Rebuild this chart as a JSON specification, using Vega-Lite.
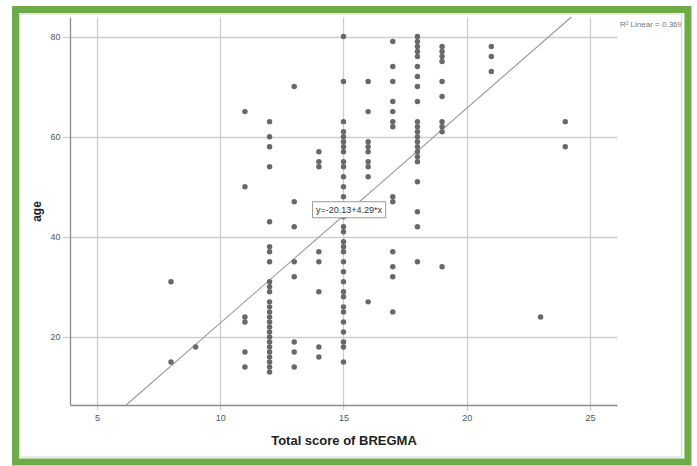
{
  "$schema": "https://vega.github.io/schema/vega-lite/v6.json",
  "width": 547,
  "height": 388,
  "autosize": {"type": "none"},
  "padding": {"left": 70, "top": 17, "right": 80, "bottom": 61},
  "background": "white",
  "config": {
    "font": "Liberation Sans",
    "view": {"stroke": null},
    "axis": {
      "gridColor": "#cdcdcd",
      "gridWidth": 1.3,
      "domainColor": "#8c8c8c",
      "domainWidth": 1.3,
      "tickColor": "#cdcdcd",
      "tickWidth": 1.3,
      "labelColor": "#555555",
      "labelFontSize": 9,
      "labelFont": "Liberation Sans",
      "titleFont": "Liberation Sans",
      "titleFontWeight": "bold",
      "titleColor": "#222222"
    }
  },
  "datasets": {
    "pts": [
      {"score": 8, "age": 31}, {"score": 8, "age": 15},
      {"score": 9, "age": 18},
      {"score": 11, "age": 65}, {"score": 11, "age": 50}, {"score": 11, "age": 24}, {"score": 11, "age": 23}, {"score": 11, "age": 17}, {"score": 11, "age": 14},
      {"score": 12, "age": 63}, {"score": 12, "age": 60}, {"score": 12, "age": 58}, {"score": 12, "age": 54}, {"score": 12, "age": 43}, {"score": 12, "age": 38}, {"score": 12, "age": 37}, {"score": 12, "age": 35}, {"score": 12, "age": 31}, {"score": 12, "age": 30}, {"score": 12, "age": 29}, {"score": 12, "age": 27}, {"score": 12, "age": 26}, {"score": 12, "age": 25}, {"score": 12, "age": 24}, {"score": 12, "age": 23}, {"score": 12, "age": 22}, {"score": 12, "age": 21}, {"score": 12, "age": 20}, {"score": 12, "age": 19}, {"score": 12, "age": 18}, {"score": 12, "age": 17}, {"score": 12, "age": 16}, {"score": 12, "age": 15}, {"score": 12, "age": 14}, {"score": 12, "age": 13},
      {"score": 13, "age": 70}, {"score": 13, "age": 47}, {"score": 13, "age": 42}, {"score": 13, "age": 35}, {"score": 13, "age": 32}, {"score": 13, "age": 19}, {"score": 13, "age": 17}, {"score": 13, "age": 14},
      {"score": 14, "age": 57}, {"score": 14, "age": 55}, {"score": 14, "age": 54}, {"score": 14, "age": 37}, {"score": 14, "age": 35}, {"score": 14, "age": 29}, {"score": 14, "age": 18}, {"score": 14, "age": 16},
      {"score": 15, "age": 80}, {"score": 15, "age": 71}, {"score": 15, "age": 63}, {"score": 15, "age": 61}, {"score": 15, "age": 60}, {"score": 15, "age": 59}, {"score": 15, "age": 58}, {"score": 15, "age": 57}, {"score": 15, "age": 55}, {"score": 15, "age": 54}, {"score": 15, "age": 52}, {"score": 15, "age": 50}, {"score": 15, "age": 48}, {"score": 15, "age": 46}, {"score": 15, "age": 44}, {"score": 15, "age": 42}, {"score": 15, "age": 41}, {"score": 15, "age": 39}, {"score": 15, "age": 38}, {"score": 15, "age": 37}, {"score": 15, "age": 35}, {"score": 15, "age": 33}, {"score": 15, "age": 31}, {"score": 15, "age": 29}, {"score": 15, "age": 28}, {"score": 15, "age": 26}, {"score": 15, "age": 25}, {"score": 15, "age": 23}, {"score": 15, "age": 21}, {"score": 15, "age": 19}, {"score": 15, "age": 18}, {"score": 15, "age": 15},
      {"score": 16, "age": 71}, {"score": 16, "age": 65}, {"score": 16, "age": 59}, {"score": 16, "age": 58}, {"score": 16, "age": 57}, {"score": 16, "age": 55}, {"score": 16, "age": 54}, {"score": 16, "age": 52}, {"score": 16, "age": 27},
      {"score": 17, "age": 79}, {"score": 17, "age": 74}, {"score": 17, "age": 71}, {"score": 17, "age": 67}, {"score": 17, "age": 65}, {"score": 17, "age": 63}, {"score": 17, "age": 62}, {"score": 17, "age": 48}, {"score": 17, "age": 47}, {"score": 17, "age": 37}, {"score": 17, "age": 34}, {"score": 17, "age": 32}, {"score": 17, "age": 25},
      {"score": 18, "age": 80}, {"score": 18, "age": 79}, {"score": 18, "age": 78}, {"score": 18, "age": 77}, {"score": 18, "age": 76}, {"score": 18, "age": 74}, {"score": 18, "age": 72}, {"score": 18, "age": 70}, {"score": 18, "age": 67}, {"score": 18, "age": 63}, {"score": 18, "age": 62}, {"score": 18, "age": 61}, {"score": 18, "age": 60}, {"score": 18, "age": 59}, {"score": 18, "age": 58}, {"score": 18, "age": 57}, {"score": 18, "age": 56}, {"score": 18, "age": 55}, {"score": 18, "age": 51}, {"score": 18, "age": 45}, {"score": 18, "age": 42}, {"score": 18, "age": 35},
      {"score": 19, "age": 78}, {"score": 19, "age": 77}, {"score": 19, "age": 76}, {"score": 19, "age": 75}, {"score": 19, "age": 71}, {"score": 19, "age": 68}, {"score": 19, "age": 63}, {"score": 19, "age": 62}, {"score": 19, "age": 61}, {"score": 19, "age": 34},
      {"score": 21, "age": 78}, {"score": 21, "age": 76}, {"score": 21, "age": 73},
      {"score": 23, "age": 24},
      {"score": 24, "age": 63}, {"score": 24, "age": 58}
    ],
    "fit": [
      {"score": 6.18, "age": 6.4},
      {"score": 24.25, "age": 83.9}
    ]
  },
  "layer": [
    {
      "data": {"name": "pts"},
      "mark": {"type": "point", "opacity": 0},
      "encoding": {
        "x": {
          "field": "score", "type": "quantitative",
          "title": "Total score of BREGMA",
          "scale": {"domain": [3.9, 26.1], "nice": false, "zero": false},
          "axis": {"values": [5, 10, 15, 20, 25], "grid": true, "tickSize": 5, "labelPadding": 3, "titlePadding": 12, "titleFontSize": 13}
        },
        "y": {
          "field": "age", "type": "quantitative",
          "title": "age",
          "scale": {"domain": [6.4, 83.9], "nice": false, "zero": false},
          "axis": {"values": [20, 40, 60, 80], "grid": true, "tickSize": 8, "labelPadding": 2, "titlePadding": 6, "titleFontSize": 12}
        }
      }
    },
    {
      "data": {"name": "fit"},
      "mark": {"type": "line", "color": "#9a9a9a", "strokeWidth": 1.1},
      "encoding": {
        "x": {"field": "score", "type": "quantitative"},
        "y": {"field": "age", "type": "quantitative"}
      }
    },
    {
      "data": {"name": "pts"},
      "mark": {"type": "circle", "color": "#686868", "opacity": 1, "size": 30},
      "encoding": {
        "x": {"field": "score", "type": "quantitative"},
        "y": {"field": "age", "type": "quantitative"}
      }
    },
    {
      "data": {"values": [{"label": "y=-20.13+4.29*x"}]},
      "mark": {"type": "rect", "fill": "white", "stroke": "#9a9a9a", "strokeWidth": 1},
      "encoding": {
        "x": {"datum": 13.74, "type": "quantitative"},
        "x2": {"datum": 16.71},
        "y": {"datum": 43.8, "type": "quantitative"},
        "y2": {"datum": 47.0}
      }
    },
    {
      "data": {"values": [{"label": "y=-20.13+4.29*x"}]},
      "mark": {"type": "text", "fontSize": 9, "color": "#333333", "align": "center", "baseline": "middle"},
      "encoding": {
        "x": {"datum": 15.22, "type": "quantitative"},
        "y": {"datum": 45.4, "type": "quantitative"},
        "text": {"field": "label"}
      }
    },
    {
      "data": {"values": [{"label": "R² Linear = 0.369"}]},
      "mark": {"type": "text", "fontSize": 8, "color": "#777777", "align": "left", "baseline": "middle"},
      "encoding": {
        "x": {"datum": 26.22, "type": "quantitative"},
        "y": {"datum": 82.3, "type": "quantitative"},
        "text": {"field": "label"}
      }
    },
    {
      "data": {"values": [{"frame": "inner"}]},
      "mark": {"type": "rect", "fill": null, "stroke": "#d4d4d4", "strokeWidth": 1},
      "encoding": {
        "x": {"datum": 1.86, "type": "quantitative"},
        "x2": {"datum": 28.72},
        "y": {"datum": 84.5, "type": "quantitative"},
        "y2": {"datum": -4.0}
      }
    },
    {
      "data": {"values": [{"frame": "outer"}]},
      "mark": {"type": "rect", "fill": null, "stroke": "#6cac48", "strokeWidth": 7},
      "encoding": {
        "x": {"datum": 1.69, "type": "quantitative"},
        "x2": {"datum": 28.98},
        "y": {"datum": 85.4, "type": "quantitative"},
        "y2": {"datum": -5.0}
      }
    }
  ]
}
